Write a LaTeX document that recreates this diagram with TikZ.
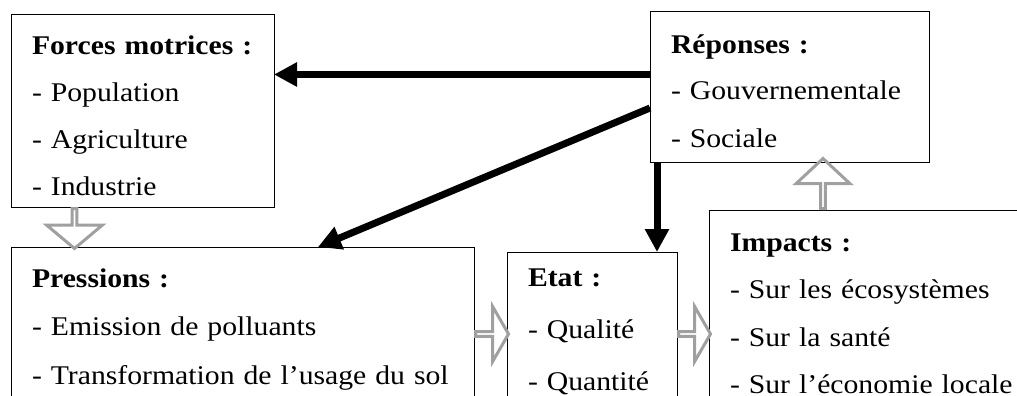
\documentclass[tikz,border=0pt]{standalone}
\usepackage{fontspec}
\setmainfont{Liberation Serif}[FakeStretch=1.1]
\usetikzlibrary{shapes, arrows.meta, positioning, calc}
\definecolor{arrowgray}{RGB}{160,160,160}

\begin{document}
\begin{tikzpicture}[
    x=1pt, y=-1pt,
    box/.style={rectangle, draw, line width=1pt, anchor=north west, inner sep=0pt, outer sep=0pt,
        align=left, font=\fontsize{27}{47}\selectfont, text height=40pt,
        execute at begin node={\leftskip=21pt}},
    arrow/.style={-{Triangle[length=23pt, width=23pt]}, line width=7pt},
    flow/.style={single arrow, draw=arrowgray, line width=3pt, inner sep=0pt, anchor=tail,
        single arrow tip angle=100, minimum width=56pt, single arrow head extend=16pt}
]
\useasboundingbox (0,0) rectangle (1017,396);
\clip (0,0) rectangle (1017,396);

% Forces motrices
\node[box, text width=263pt, text depth=152pt] (forces) at (11,15)
    {\textbf{Forces motrices :}\\- Population\\- Agriculture\\- Industrie};

% Reponses
\node[box, text width=279pt, text height=41pt, text depth=109pt] (rep) at (650,12)
    {\textbf{Réponses :}\\- Gouvernementale\\- Sociale};

% Pressions
\node[box, text width=463pt, text depth=200pt, font=\fontsize{27}{48.5}\selectfont] (press) at (11,247)
    {\textbf{Pressions :}\\- Emission de polluants\\- Transformation de l’usage du sol};

% Etat
\node[box, text width=170pt, text height=34pt, text depth=200pt, font=\fontsize{27}{52}\selectfont] (etat) at (507,252)
    {\textbf{Etat :}\\- Qualité\\- Quantité};

% Impacts
\node[box, text width=340pt, text height=41pt, text depth=220pt, font=\fontsize{27}{47.5}\selectfont] (impacts) at (709,210)
    {\textbf{Impacts :}\\- Sur les écosystèmes\\- Sur la santé\\- Sur l’économie locale};

% Gray block arrows
\node[flow, shape border rotate=270, minimum height=40pt] (down) at ([xshift=63.5pt]forces.south west) {};
\node[flow, single arrow tip angle=120, minimum width=55pt, single arrow head extend=15.5pt,
    minimum height=33pt] (toetat) at ([yshift=-87pt]press.north east) {};
\node[flow, single arrow tip angle=120, minimum width=55pt, single arrow head extend=15.5pt,
    minimum height=32pt] (toimpacts) at ([yshift=-82pt]etat.north east) {};
\node[flow, shape border rotate=90, single arrow tip angle=94, minimum width=54pt,
    single arrow head extend=15pt, minimum height=50pt] (up) at ([xshift=114pt]impacts.north west) {};

% Black arrows
\coordinate (r1) at ([yshift=-62.5pt]rep.north west);
\coordinate (r2) at ([yshift=-96pt]rep.north west);
\coordinate (p1) at ([xshift=307pt]press.north west);
\coordinate (e1) at ([xshift=150pt]etat.north west);
\draw[arrow] (r1) -- (r1 -| forces.east);
\draw[arrow] (r2) -- (p1);
\draw[arrow] (e1 |- rep.south) -- (e1);

\end{tikzpicture}
\end{document}
